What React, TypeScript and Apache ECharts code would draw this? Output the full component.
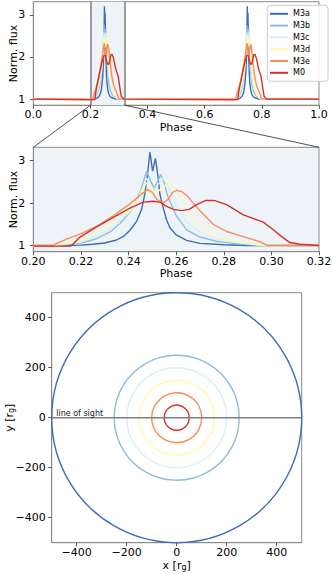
import React, { useEffect, useRef } from "react";
import * as echarts from "echarts";

// ---------- data ----------
const seriesNames = ["M3a", "M3b", "M3c", "M3d", "M3e", "M0"];
const seriesColors = ["#3d6db3", "#8fbcdc", "#d9eff6", "#fbfbb0", "#fb8b57", "#d73027"];

// light curve around the first flare (phase, normalised flux)
const flareM3a = [
  [0.2, 1.0], [0.215, 1.0], [0.22, 1.01], [0.225, 1.03], [0.23, 1.06], [0.235, 1.13],
  [0.238, 1.22], [0.2406, 1.36], [0.2434, 1.57], [0.2455, 1.85], [0.2468, 2.2],
  [0.2478, 2.6], [0.249, 3.2], [0.2501, 2.75], [0.2513, 3.05], [0.2522, 2.7],
  [0.2532, 2.2], [0.2546, 1.88], [0.256, 1.6], [0.2574, 1.42], [0.26, 1.25],
  [0.2644, 1.12], [0.27, 1.05], [0.28, 1.02], [0.29, 1.0], [0.32, 1.0],
];
const flareM3b = [
  [0.2, 1.0], [0.2126, 1.01], [0.2196, 1.05], [0.2266, 1.16], [0.2322, 1.32],
  [0.2364, 1.52], [0.2406, 1.78], [0.2448, 2.25], [0.2465, 2.55], [0.2476, 2.75],
  [0.249, 2.55], [0.2508, 2.35], [0.2522, 2.5], [0.2535, 2.67], [0.2548, 2.5],
  [0.2565, 2.15], [0.2602, 1.69], [0.2644, 1.37], [0.27, 1.2], [0.277, 1.1],
  [0.284, 1.05], [0.291, 1.02], [0.297, 1.0], [0.32, 1.0],
];
const flareM3c = [
  [0.2, 1.0], [0.21, 1.01], [0.2196, 1.08], [0.2266, 1.22], [0.2336, 1.45],
  [0.2406, 1.8], [0.2448, 2.2], [0.2476, 2.58], [0.249, 2.45], [0.2508, 2.3],
  [0.2525, 2.45], [0.2545, 2.58], [0.2565, 2.4], [0.2602, 1.9], [0.2644, 1.55],
  [0.27, 1.32], [0.2756, 1.18], [0.2812, 1.1], [0.2882, 1.05], [0.2952, 1.01],
  [0.298, 1.0], [0.32, 1.0],
];
const flareM3d = [
  [0.2, 1.0], [0.207, 1.0], [0.2126, 1.03], [0.2196, 1.13], [0.2266, 1.3],
  [0.2336, 1.53], [0.2406, 1.84], [0.2448, 2.2], [0.2476, 2.48], [0.2495, 2.35],
  [0.2511, 2.22], [0.2535, 2.32], [0.2565, 2.46], [0.2585, 2.38], [0.2616, 2.1],
  [0.2658, 1.72], [0.27, 1.52], [0.2742, 1.3], [0.2812, 1.14], [0.2882, 1.07],
  [0.2952, 1.02], [0.298, 1.0], [0.32, 1.0],
];
const flareM3e = [
  [0.2, 1.0], [0.2084, 1.0], [0.2098, 1.05], [0.214, 1.15], [0.2196, 1.27],
  [0.2266, 1.45], [0.2336, 1.7], [0.2406, 1.98], [0.2448, 2.18], [0.248, 2.32],
  [0.25, 2.25], [0.252, 2.08], [0.2545, 2.0], [0.2565, 2.08], [0.2585, 2.25],
  [0.2602, 2.3], [0.2625, 2.26], [0.2644, 2.18], [0.27, 1.82], [0.2756, 1.5],
  [0.2812, 1.33], [0.2882, 1.21], [0.2952, 1.09], [0.2985, 1.0], [0.32, 1.0],
];
const flareM0 = [
  [0.2, 0.985], [0.2154, 0.99], [0.2161, 1.0], [0.2196, 1.2], [0.2266, 1.44],
  [0.2336, 1.66], [0.2406, 1.88], [0.2462, 2.02], [0.2504, 2.04], [0.2532, 2.02],
  [0.256, 1.92], [0.2588, 1.85], [0.2623, 1.82], [0.2655, 1.85], [0.2686, 1.96],
  [0.2725, 2.06], [0.276, 2.06], [0.2812, 1.96], [0.2882, 1.72], [0.2966, 1.55],
  [0.3008, 1.37], [0.305, 1.18], [0.3078, 1.07], [0.312, 1.03], [0.32, 1.0],
];
const flareData = [flareM3a, flareM3b, flareM3c, flareM3d, flareM3e, flareM0];

// the second flare repeats half an orbit later
const flareOffsets = [0, 0.5];
const quietFlux = 1.0;

const fluxTicks = [1, 2, 3];
const fluxRange = [0.855, 3.31];
const zoomRange = [0.2, 0.32];
const zoomTicks = [0.2, 0.22, 0.24, 0.26, 0.28, 0.3, 0.32];

const orbitRadii = [500, 250, 200, 150, 100, 50];
const orbitTicks = [-400, -200, 0, 200, 400];
const orbitRange = [-500, 500];
const lineOfSight = [[-500, 0], [500, 0]];
const lineOfSightLabelAt = [-482, 0];

// ---------- styling ----------
const FONT = "DejaVu Sans";
const FRAME = "#8a8a8a";
const TICK = "#333";
const PANEL = "#eef3f8";

function fullCurve(flare: number[][]) {
  const pts: number[][] = [[0, quietFlux]];
  flareOffsets.forEach((o) => {
    flare.forEach(([p, f]) => pts.push([Math.round((p + o) * 10000) / 10000, f]));
  });
  pts.push([1, quietFlux]);
  return pts;
}

const minus = (v: number) => (v < 0 ? "\u2212" + Math.abs(v) : String(v));

function valueAxis(grid: number, opts: any) {
  return {
    type: "value",
    gridIndex: grid,
    axisLine: { show: true, onZero: false, lineStyle: { color: FRAME, width: 1 } },
    splitLine: { show: false },
    nameTextStyle: { fontFamily: FONT, fontSize: 11, color: "#000" },
    nameLocation: "middle",
    nameMoveOverlap: false,
    ...opts,
    axisTick: {
      show: true,
      length: 3.5,
      lineStyle: { color: TICK, width: 0.8 },
      ...(opts.axisTick || {}),
    },
    axisLabel: {
      fontFamily: FONT,
      fontSize: 11,
      color: "#000",
      showMinLabel: true,
      showMaxLabel: true,
      hideOverlap: false,
      ...(opts.axisLabel || {}),
    },
  };
}

const gridBase = { show: true, borderColor: FRAME, borderWidth: 1, containLabel: false, outerBoundsMode: "none" };

export default function App() {
  const ref = useRef<HTMLDivElement>(null);

  useEffect(() => {
    if (!ref.current) return;
    const chart = echarts.init(ref.current, null, { renderer: "svg" });

    const subRich = {
      g: { fontFamily: FONT, fontSize: 8, color: "#000", padding: [5, 0, 0, 0] },
    };

    const series: any[] = [];
    // shaded zoom window in the top panel
    series.push({
      type: "line",
      xAxisIndex: 0,
      yAxisIndex: 0,
      data: [],
      z: 1,
      silent: true,
      markArea: {
        silent: true,
        itemStyle: { color: PANEL },
        data: [[{ xAxis: zoomRange[0] }, { xAxis: zoomRange[1] }]],
      },
      markLine: {
        silent: true,
        symbol: "none",
        label: { show: false },
        lineStyle: { color: "#7f7f7f", width: 1.5, type: "solid" },
        data: [{ xAxis: zoomRange[0] }, { xAxis: zoomRange[1] }],
      },
    });
    flareData.forEach((flare, i) => {
      series.push({
        name: seriesNames[i],
        type: "line",
        xAxisIndex: 0,
        yAxisIndex: 0,
        data: fullCurve(flare),
        symbol: "none",
        z: 2 + i * 0.01,
        lineStyle: { color: seriesColors[i], width: 1.4 },
        itemStyle: { color: seriesColors[i] },
      });
    });
    flareData.forEach((flare, i) => {
      series.push({
        name: seriesNames[i],
        type: "line",
        xAxisIndex: 1,
        yAxisIndex: 1,
        data: flare,
        symbol: "none",
        lineStyle: { color: seriesColors[i], width: 1.4 },
        itemStyle: { color: seriesColors[i] },
      });
    });
    orbitRadii.forEach((r, i) => {
      series.push({
        name: seriesNames[i],
        type: "custom",
        xAxisIndex: 2,
        yAxisIndex: 2,
        data: [[0, 0, r]],
        encode: { x: 0, y: 1 },
        clip: false,
        renderItem: (_p: any, api: any) => {
          const c = api.coord([api.value(0), api.value(1)]);
          const s = api.size([api.value(2), api.value(2)]);
          return {
            type: "circle",
            shape: { cx: c[0], cy: c[1], r: s[0] },
            style: { fill: "none", stroke: seriesColors[i], lineWidth: 1.4 },
          };
        },
      });
    });
    series.push({
      type: "line",
      xAxisIndex: 2,
      yAxisIndex: 2,
      data: lineOfSight,
      symbol: "none",
      z: 5,
      lineStyle: { color: "#7f7f7f", width: 1.4 },
    });

    const option: any = {
      animation: false,
      textStyle: { fontFamily: FONT },
      grid: [
        { ...gridBase, left: 33.3, top: 1.7, width: 285.7, height: 103.5, backgroundColor: "transparent" },
        { ...gridBase, left: 33.3, top: 147.3, width: 285.7, height: 104.4, backgroundColor: PANEL },
        { ...gridBase, left: 51.7, top: 292.7, width: 250, height: 250 },
      ],
      xAxis: [
        valueAxis(0, {
          min: 0, max: 1, interval: 0.2,
          name: "Phase", nameGap: 17,
          axisLabel: { margin: 4, formatter: (v: number) => v.toFixed(1) },
        }),
        valueAxis(1, {
          min: zoomRange[0], max: zoomRange[1],
          name: "Phase", nameGap: 16,
          axisTick: { customValues: zoomTicks },
          axisLabel: { margin: 4, customValues: zoomTicks, formatter: (v: number) => v.toFixed(2) },
        }),
        valueAxis(2, {
          min: orbitRange[0], max: orbitRange[1],
          name: "x [r{g|g}]", nameGap: 16,
          nameTextStyle: { fontFamily: FONT, fontSize: 11, color: "#000", rich: subRich },
          axisTick: { customValues: orbitTicks },
          axisLabel: { margin: 4, customValues: orbitTicks, formatter: minus },
        }),
      ],
      yAxis: [
        valueAxis(0, {
          min: fluxRange[0], max: fluxRange[1],
          name: "Norm. flux", nameGap: 14,
          axisTick: { customValues: fluxTicks },
          axisLabel: { margin: 8, customValues: fluxTicks },
        }),
        valueAxis(1, {
          min: fluxRange[0], max: fluxRange[1],
          name: "Norm. flux", nameGap: 14,
          axisTick: { customValues: fluxTicks },
          axisLabel: { margin: 8, customValues: fluxTicks },
        }),
        valueAxis(2, {
          min: orbitRange[0], max: orbitRange[1],
          name: "y [r{g|g}]", nameGap: 36,
          nameTextStyle: { fontFamily: FONT, fontSize: 11, color: "#000", rich: subRich },
          axisTick: { customValues: orbitTicks },
          axisLabel: { margin: 6, customValues: orbitTicks, formatter: minus },
        }),
      ],
      legend: {
        data: seriesNames,
        orient: "vertical",
        left: 267.3,
        top: 5.3,
        icon: "rect",
        itemWidth: 18,
        itemHeight: 2,
        itemGap: 1.8,
        padding: [3.5, 18, 3.5, 2.7],
        backgroundColor: "rgba(255,255,255,0.85)",
        borderColor: "#cccccc",
        borderWidth: 1,
        borderRadius: 3,
        textStyle: { fontFamily: FONT, fontSize: 8, color: "#000", lineHeight: 10, height: 10 },
        selectedMode: false,
      },
      series,
    };
    chart.setOption(option);

    const a1 = chart.convertToPixel({ gridIndex: 0 } as any, [zoomRange[0], fluxRange[0]]) as number[];
    const a2 = chart.convertToPixel({ gridIndex: 0 } as any, [zoomRange[1], fluxRange[0]]) as number[];
    const b1 = chart.convertToPixel({ gridIndex: 1 } as any, [zoomRange[0], fluxRange[1]]) as number[];
    const b2 = chart.convertToPixel({ gridIndex: 1 } as any, [zoomRange[1], fluxRange[1]]) as number[];
    const t = chart.convertToPixel({ gridIndex: 2 } as any, lineOfSightLabelAt) as number[];

    chart.setOption({
      graphic: [
        { type: "line", shape: { x1: a1[0], y1: a1[1], x2: b1[0], y2: b1[1] }, style: { stroke: "#222", lineWidth: 0.8 }, z: 10 },
        { type: "line", shape: { x1: a2[0], y1: a2[1], x2: b2[0], y2: b2[1] }, style: { stroke: "#222", lineWidth: 0.8 }, z: 10 },
        {
          type: "text",
          x: t[0],
          y: t[1] - 0.3,
          z: 10,
          style: { text: "line of sight", fontFamily: FONT, fontSize: 8, fill: "#222", textAlign: "left", textVerticalAlign: "bottom" },
        },
      ],
    });

    return () => chart.dispose();
  }, []);

  return (
    <div
      ref={ref}
      style={{ position: "fixed", left: 0, top: 0, width: 332, height: 574, background: "#fff" }}
    />
  );
}
